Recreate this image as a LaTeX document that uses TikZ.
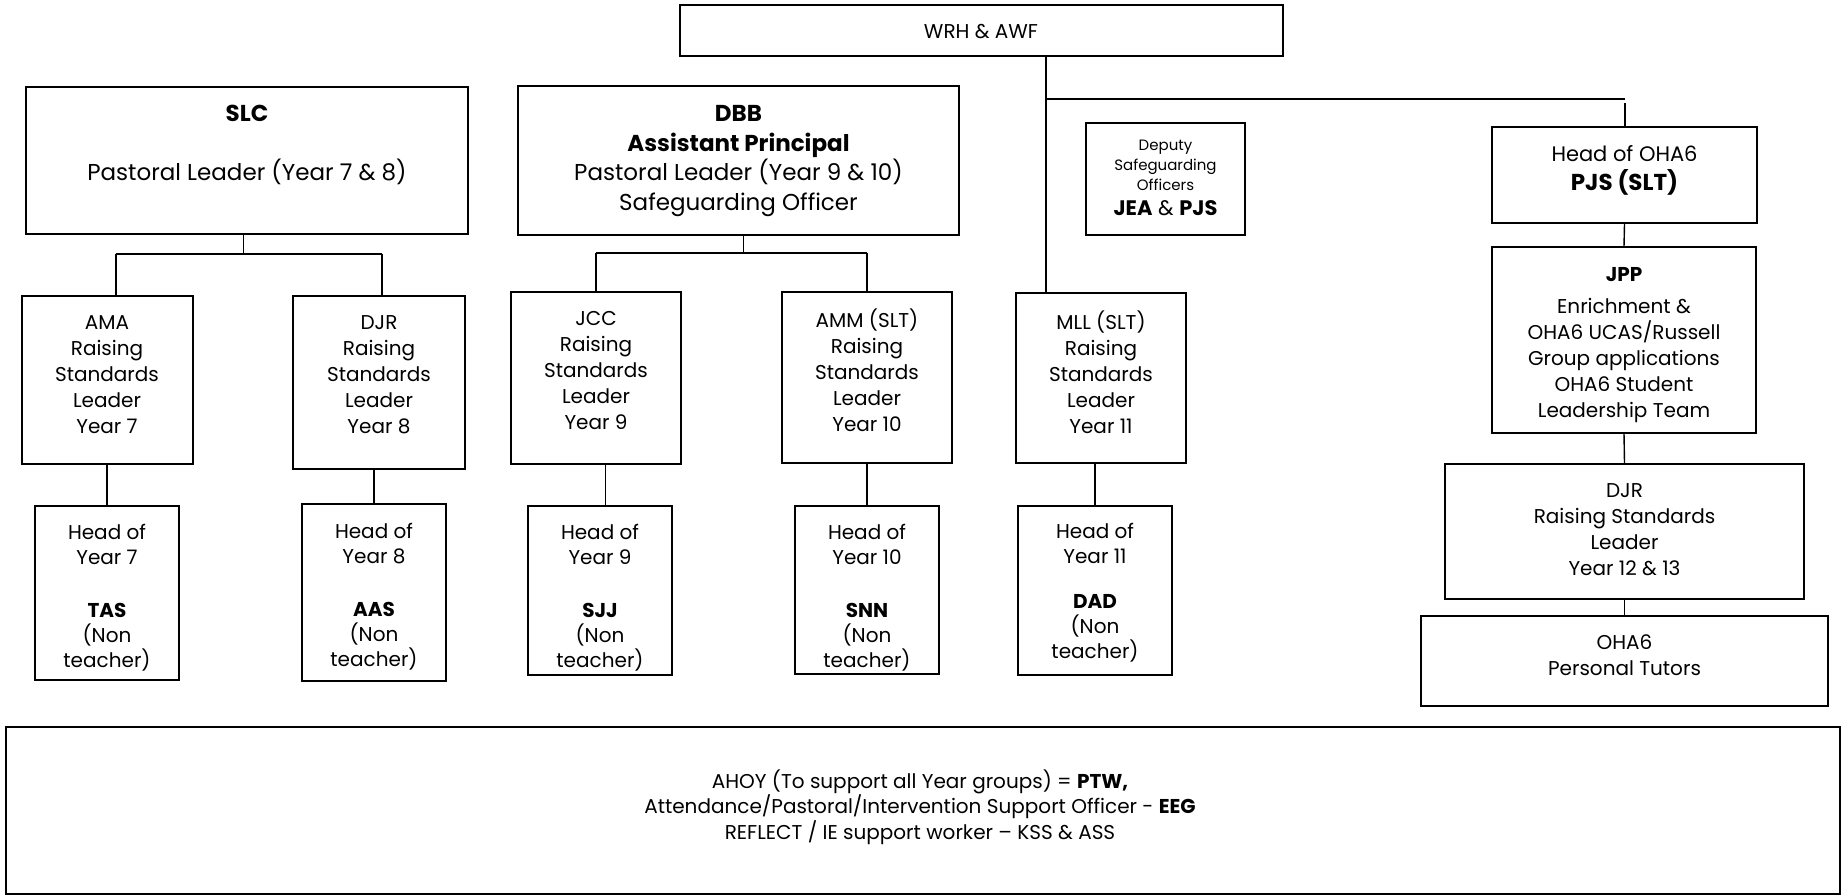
\documentclass[tikz,border=0pt]{standalone}
\usepackage{fontspec}
\setmainfont{Poppins}
\usetikzlibrary{fit}
\tikzset{
  box/.style={draw=black, line width=1.8pt, rectangle, inner sep=0pt},
  conn/.style={draw=black, line width=1.4pt},
  txt/.style={align=center, inner sep=0pt, text=black},
  fa/.style={font=\fontsize{20}{26}\selectfont},
  fh/.style={font=\fontsize{20}{25}\selectfont},
  fb/.style={font=\fontsize{23}{29.5}\selectfont},
  fs/.style={font=\fontsize{15}{20}\selectfont},
  fbot/.style={font=\fontsize{20}{25.5}\selectfont},
}
\begin{document}
\begin{tikzpicture}[x=1pt,y=-1pt]
\useasboundingbox[fill=white] (0,0) rectangle (1842,895);

% boxes
\node[box, fit={(680,5) (1283,56)}] (wrh) {};
\node[box, fit={(26,87) (468,234)}] (slc) {};
\node[box, fit={(518,86) (959,235)}] (dbb) {};
\node[box, fit={(1086,123) (1245,235)}] (dep) {};
\node[box, fit={(1492,127) (1757,223)}] (oha) {};
\node[box, fit={(22,296) (193,464)}] (ama) {};
\node[box, fit={(293,296) (465,469)}] (djr) {};
\node[box, fit={(511,292) (681,464)}] (jcc) {};
\node[box, fit={(782,292) (952,463)}] (amm) {};
\node[box, fit={(1016,293) (1186,463)}] (mll) {};
\node[box, fit={(1492,247) (1756,433)}] (jpp) {};
\node[box, fit={(35,506) (179,680)}] (hy7) {};
\node[box, fit={(302,504) (446,681)}] (hy8) {};
\node[box, fit={(528,506) (672,675)}] (hy9) {};
\node[box, fit={(795,506) (939,674)}] (hy10) {};
\node[box, fit={(1018,506) (1172,675)}] (hy11) {};
\node[box, fit={(1445,464) (1804,599)}] (djrb) {};
\node[box, fit={(1421,616) (1828,706)}] (tut) {};
\node[box, fit={(6,727) (1840,894)}] (bot) {};

% texts
\node[txt, font=\fontsize{20}{22}\selectfont] (wrh-t) at (981,32) {WRH \& AWF};
\node[txt, fb] (slc-t) at (247,158) {\textbf{SLC}\\ \mbox{}\\ Pastoral Leader (Year 7 \& 8)\\ \mbox{}};
\node[txt, fb] (dbb-t) at (738.5,161) {\textbf{DBB}\\ \textbf{Assistant Principal}\\ Pastoral Leader (Year 9 \& 10)\\ Safeguarding Officer};
\node[txt, fs] (dep-t) at (1165.5,178) {Deputy\\ Safeguarding\\ Officers\\[5pt] {\fontsize{21}{22}\selectfont\textbf{JEA} \& \textbf{PJS}}};
\node[txt, font=\fontsize{21}{29}\selectfont] (oha-t) at (1624.5,170) {Head of OHA6\\ {\fontsize{23}{29}\selectfont\textbf{PJS (SLT)}}};
\node[txt, fa] (ama-t) at (107,375) {AMA\\ Raising\\ Standards\\ Leader\\ Year 7};
\node[txt, fa] (djr-t) at (379,375) {DJR\\ Raising\\ Standards\\ Leader\\ Year 8};
\node[txt, fa] (jcc-t) at (596,371) {JCC\\ Raising\\ Standards\\ Leader\\ Year 9};
\node[txt, fa] (amm-t) at (867,370) {AMM (SLT)\\ Raising\\ Standards\\ Leader\\ Year 10};
\node[txt, fa] (mll-t) at (1101,372) {MLL (SLT)\\ Raising\\ Standards\\ Leader\\ Year 11};
\node[txt, fa] (jpp-t) at (1624,345) {\textbf{JPP}\\[6pt] Enrichment \&\\ OHA6 UCAS/Russell\\ Group applications\\ OHA6 Student\\ Leadership Team};
\node[txt, fh] (hy7-t) at (107,598) {Head of\\ Year 7\\ \mbox{}\\[3pt] \textbf{TAS}\\ (Non\\ teacher)};
\node[txt, fh] (hy8-t) at (374,597) {Head of\\ Year 8\\ \mbox{}\\[3pt] \textbf{AAS}\\ (Non\\ teacher)};
\node[txt, fh] (hy9-t) at (600,598) {Head of\\ Year 9\\ \mbox{}\\[3pt] \textbf{SJJ}\\ (Non\\ teacher)};
\node[txt, fh] (hy10-t) at (867,598) {Head of\\ Year 10\\ \mbox{}\\[3pt] \textbf{SNN}\\ (Non\\ teacher)};
\node[txt, fh] (hy11-t) at (1095,593) {Head of\\ Year 11\\[20pt] \textbf{DAD}\\ (Non\\ teacher)};
\node[txt, fa] (djrb-t) at (1624.5,530) {DJR\\ Raising Standards\\ Leader\\ Year 12 \& 13};
\node[txt, fa] (tut-t) at (1624.5,655) {OHA6\\ Personal Tutors};
\node[txt, fbot] (bot-t) at (920,807) {AHOY (To support all Year groups) = \textbf{PTW,}\\ Attendance/Pastoral/Intervention Support Officer - \textbf{EEG}\\ REFLECT / IE support worker -- KSS \& ASS};

% connectors
\coordinate (trunk) at (1046,99);
\draw[conn] (trunk |- wrh.south) -- (trunk |- mll.north);
\draw[conn] (trunk) -- (trunk -| oha.north);
\coordinate (ohatop) at (1625,103);
\draw[conn] (ohatop) -- (ohatop |- oha.north);
\draw[conn] (oha.south) -- (jpp.north);
\draw[conn] (jpp.south) -- (djrb.north);
\draw[conn] (djrb.south) -- (tut.north);

\coordinate (sbus) at (243.5,254);
\coordinate (sl) at (116,254);
\coordinate (sr) at (382,254);
\draw[conn] (sbus |- slc.south) -- (sbus);
\draw[conn] (sl) -- (sr);
\draw[conn] (sl) -- (sl |- ama.north);
\draw[conn] (sr) -- (sr |- djr.north);

\coordinate (dbus) at (743.5,253);
\draw[conn] (dbus |- dbb.south) -- (dbus);
\draw[conn] (dbus -| jcc.north) -- (dbus -| amm.north);
\draw[conn] (dbus -| jcc.north) -- (jcc.north);
\draw[conn] (dbus -| amm.north) -- (amm.north);

\draw[conn] (ama.south -| hy7.north) -- (hy7.north);
\draw[conn] (djr.south -| hy8.north) -- (hy8.north);
\coordinate (c9) at (605.5,464);
\draw[conn] (c9 |- jcc.south) -- (c9 |- hy9.north);
\draw[conn] (amm.south) -- (hy10.north);
\draw[conn] (mll.south -| hy11.north) -- (hy11.north);
\end{tikzpicture}
\end{document}
